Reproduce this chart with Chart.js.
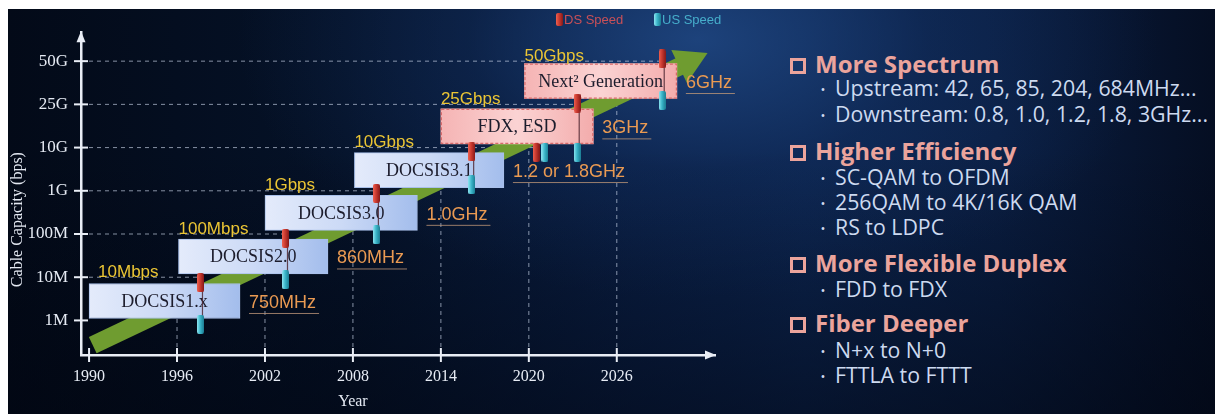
<!DOCTYPE html>
<html>
<head>
<meta charset="utf-8">
<script src="https://cdn.jsdelivr.net/npm/chart.js@4.4.1/dist/chart.umd.min.js"></script>
<style>
  html, body { margin: 0; padding: 0; background: #fff; }
  body { width: 1215px; height: 414px; position: relative; overflow: hidden; }
  #panel {
    position: absolute; left: 8px; top: 9px; width: 1207px; height: 405px; overflow: hidden;
    background:
      linear-gradient(180deg, rgba(0,0,0,0) 35%, rgba(1,5,16,0.55) 100%),
      radial-gradient(ellipse 460px 260px at 690px 30px, rgba(32,72,132,0.85) 0%, rgba(20,50,100,0.4) 50%, rgba(10,25,55,0) 100%),
      linear-gradient(90deg, #030a18 0%, #051228 28%, #0a1f45 52%, #0c2550 66%, #0a1e42 82%, #050e22 100%);
  }
  #chart-wrap { position: absolute; left: 0; top: 0; width: 770px; height: 405px; }
  .head, .item { position: absolute; white-space: nowrap; font-family: "Open Sans", sans-serif; }
  .head { left: 782px; height: 28px; line-height: 28px; font-size: 24px; font-weight: 700; color: #eba49c; }
  .head .box { display: inline-block; width: 16px; height: 16px; border: 3px solid #eba49c; box-sizing: border-box; margin-right: 9px; vertical-align: -1px; }
  .item { left: 809px; height: 26px; line-height: 26px; font-size: 21.3px; color: #cddaf0; }
  .item .dot { display: inline-block; width: 12px; text-align: center; margin-right: 6px; font-size: 13px; vertical-align: 2px; }
</style>
</head>
<body>
<div id="panel">
  <div id="chart-wrap"><canvas id="roadmap"></canvas></div>

  <div class="head" style="top:41px"><span class="box"></span>More Spectrum</div>
  <div class="item" style="top:66px"><span class="dot">•</span>Upstream: 42, 65, 85, 204, 684MHz...</div>
  <div class="item" style="top:92px"><span class="dot">•</span>Downstream: 0.8, 1.0, 1.2, 1.8, 3GHz...</div>
  <div class="head" style="top:128px"><span class="box"></span>Higher Efficiency</div>
  <div class="item" style="top:155px"><span class="dot">•</span>SC-QAM to OFDM</div>
  <div class="item" style="top:180px"><span class="dot">•</span>256QAM to 4K/16K QAM</div>
  <div class="item" style="top:205px"><span class="dot">•</span>RS to LDPC</div>
  <div class="head" style="top:240px"><span class="box"></span>More Flexible Duplex</div>
  <div class="item" style="top:267px"><span class="dot">•</span>FDD to FDX</div>
  <div class="head" style="top:300px"><span class="box"></span>Fiber Deeper</div>
  <div class="item" style="top:328px"><span class="dot">•</span>N+x to N+0</div>
  <div class="item" style="top:353px"><span class="dot">•</span>FTTLA to FTTT</div>
</div>

<script>
// Axis categories
const years = [1990, 1996, 2002, 2008, 2014, 2020, 2026];
const capacityLabels = ['1M', '10M', '100M', '1G', '10G', '25G', '50G'];

// Technology generations (level = index into capacityLabels)
const generations = ['DOCSIS1.x', 'DOCSIS2.0', 'DOCSIS3.0', 'DOCSIS3.1', 'FDX, ESD', 'Next\u00B2 Generation'];
const genStart = [1990, 1996.1, 2002, 2008.1, 2014, 2019.7];
const genEnd = [2000.3, 2006.3, 2012.4, 2018.3, 2024.4, 2030.1];
const genLevel = [0.45, 1.48, 2.49, 3.48, 4.49, 5.54];
const genFuture = [false, false, false, false, true, true];
const peakSpeed = ['10Mbps', '100Mbps', '1Gbps', '10Gbps', '25Gbps', '50Gbps'];
const peakLevel = [1, 2, 3, 4, 5, 6];
const spectrum = ['750MHz', '860MHz', '1.0GHz', '1.2 or 1.8GHz', '3GHz', '6GHz'];

// DS / US speed markers
const dsYears = [1997.6, 2003.4, 2009.6, 2016.1, 2020.5, 2023.3, 2029.1];
const dsLevels = [0.87, 1.9, 2.94, 3.9, 3.89, 5.03, 6.05];
const usYears = [1997.6, 2003.4, 2009.6, 2016.1, 2021.1, 2023.3, 2029.1];
const usLevels = [-0.09, 0.94, 1.98, 3.14, 3.89, 3.89, 5.09];

// Growth trend arrow
const trendYears = [1990.25, 2030.9];
const trendLevels = [-0.57, 5.98];

const SERIF = '"Liberation Serif", "Times New Roman", serif';
const SANS = '"Liberation Sans", Arial, sans-serif';
const AXIS_COLOR = '#e9edf5';
const GREEN = '#6f9c30';
const BOX_H = 35;

function makePin(w, h, stops) {
    const c = document.createElement('canvas');
    c.width = w;
    c.height = h;
    const g = c.getContext('2d');
    const grad = g.createLinearGradient(0, 0, w, 0);
    grad.addColorStop(0, stops[0]);
    grad.addColorStop(0.45, stops[1]);
    grad.addColorStop(1, stops[2]);
    g.fillStyle = grad;
    g.beginPath();
    if (g.roundRect) g.roundRect(0, 0, w, h, 2); else g.rect(0, 0, w, h);
    g.fill();
    return c;
}

const redStops = ['#f0604f', '#c93a30', '#861818'];
const cyanStops = ['#8fe6f2', '#3bb6ca', '#1b7c92'];
const dsPin = makePin(7, 19, redStops);
const usPin = makePin(7, 19, cyanStops);
const dsLegendPin = makePin(7, 13, redStops);
const usLegendPin = makePin(7, 13, cyanStops);

function boxFill(ctx) {
    const chart = ctx.chart;
    if (!chart.chartArea || ctx.type !== 'data') return '#c8d7f3';
    const i = ctx.dataIndex;
    const xs = chart.scales.x;
    const x0 = xs.getPixelForValue(genStart[i]);
    const x1 = xs.getPixelForValue(genEnd[i]);
    const g = chart.ctx.createLinearGradient(x0, 0, x1, 0);
    if (genFuture[i]) {
        g.addColorStop(0, '#f5b4b4');
        g.addColorStop(0.5, '#fbd3d3');
        g.addColorStop(1, '#f3acac');
    } else {
        g.addColorStop(0, '#e4ebfb');
        g.addColorStop(0.5, '#ccdaf6');
        g.addColorStop(1, '#a3bdec');
    }
    return g;
}

// -------------------------------------------------------------------------
// Decorations drawn through the chart scales
// -------------------------------------------------------------------------

const roadmapPlugin = {
    id: 'roadmap',
    beforeDatasetsDraw(chart) {
        const { ctx, chartArea } = chart;
        const xs = chart.scales.x, ys = chart.scales.y;
        ctx.save();
        ctx.strokeStyle = 'rgba(205,215,235,0.65)';
        ctx.lineWidth = 1;
        ctx.setLineDash([4, 4]);
        // horizontal guides: from axis to last DS marker at that level
        for (let k = 1; k < capacityLabels.length; k++) {
            let end = null;
            dsYears.forEach((yr, i) => {
                if (Math.round(dsLevels[i]) === k && (end === null || yr > end)) end = yr;
            });
            if (end === null) continue;
            const y = ys.getPixelForValue(k);
            ctx.beginPath();
            ctx.moveTo(chartArea.left, y);
            ctx.lineTo(xs.getPixelForValue(end), y);
            ctx.stroke();
        }
        // vertical guides: from axis up to the bottom of the generation box
        for (let j = 1; j < years.length; j++) {
            const x = xs.getPixelForValue(years[j]);
            const top = ys.getPixelForValue(genLevel[j - 1]) + BOX_H / 2;
            ctx.beginPath();
            ctx.moveTo(x, chartArea.bottom);
            ctx.lineTo(x, top);
            ctx.stroke();
        }
        ctx.restore();
    },
    afterDatasetDraw(chart, args) {
        if (args.meta.type !== 'bar') return;
        const { ctx } = chart;
        const xs = chart.scales.x, ys = chart.scales.y;
        ctx.save();
        // dashed outline of the future generations
        ctx.strokeStyle = '#d86a6a';
        ctx.lineWidth = 1.2;
        ctx.setLineDash([3, 2]);
        generations.forEach((name, i) => {
            if (!genFuture[i]) return;
            const x0 = xs.getPixelForValue(genStart[i]);
            const x1 = xs.getPixelForValue(genEnd[i]);
            const yc = ys.getPixelForValue(genLevel[i]);
            ctx.strokeRect(x0 + 0.5, yc - BOX_H / 2 + 0.5, x1 - x0 - 1, BOX_H - 1);
        });
        ctx.setLineDash([]);
        ctx.fillStyle = '#1c1c2c';
        ctx.font = '18px ' + SERIF;
        ctx.textAlign = 'center';
        ctx.textBaseline = 'middle';
        generations.forEach((name, i) => {
            const cx = (xs.getPixelForValue(genStart[i]) + xs.getPixelForValue(genEnd[i])) / 2;
            ctx.fillText(name, cx, ys.getPixelForValue(genLevel[i]) + 1);
        });
        // pins linking DS and US markers of the same year
        ctx.strokeStyle = 'rgba(80,40,50,0.85)';
        ctx.lineWidth = 1.2;
        dsYears.forEach((yr, i) => {
            const j = usYears.indexOf(yr);
            if (j < 0) return;
            const x = xs.getPixelForValue(yr) + 2;
            ctx.beginPath();
            ctx.moveTo(x, ys.getPixelForValue(dsLevels[i]));
            ctx.lineTo(x, ys.getPixelForValue(usLevels[j]));
            ctx.stroke();
        });
        ctx.restore();
    },
    afterDatasetsDraw(chart) {
        const { ctx, chartArea } = chart;
        const xs = chart.scales.x, ys = chart.scales.y;
        ctx.save();
        ctx.textBaseline = 'middle';
        // peak speed labels
        ctx.font = '17px ' + SANS;
        ctx.fillStyle = '#ebc534';
        ctx.textAlign = 'left';
        peakSpeed.forEach((s, i) => {
            ctx.fillText(s, xs.getPixelForValue(genStart[i]) + (i === 0 ? 9 : 0), ys.getPixelForValue(peakLevel[i]) - 5);
        });
        // spectrum labels, underlined
        ctx.font = '18px ' + SANS;
        spectrum.forEach((s, i) => {
            const x = xs.getPixelForValue(genEnd[i]) + 9;
            const y = ys.getPixelForValue(genLevel[i]) + 2;
            ctx.fillStyle = '#ea9a52';
            ctx.fillText(s, x, y);
            const w = ctx.measureText(s).width;
            ctx.strokeStyle = 'rgba(190,150,120,0.8)';
            ctx.lineWidth = 1;
            ctx.beginPath();
            ctx.moveTo(x, y + 10.5);
            ctx.lineTo(x + w + 3, y + 10.5);
            ctx.stroke();
        });
        // axis tick marks crossing the axes
        ctx.strokeStyle = AXIS_COLOR;
        ctx.lineWidth = 2;
        years.forEach(v => {
            const x = xs.getPixelForValue(v);
            ctx.beginPath();
            ctx.moveTo(x, chartArea.bottom - 7);
            ctx.lineTo(x, chartArea.bottom + 7);
            ctx.stroke();
        });
        capacityLabels.forEach((_, k) => {
            const y = ys.getPixelForValue(k);
            ctx.beginPath();
            ctx.moveTo(chartArea.left - 7, y);
            ctx.lineTo(chartArea.left + 7, y);
            ctx.stroke();
        });
        // axis arrow heads
        ctx.fillStyle = AXIS_COLOR;
        ctx.beginPath();
        ctx.moveTo(chartArea.left, chartArea.top - 1);
        ctx.lineTo(chartArea.left - 4.5, chartArea.top + 10);
        ctx.lineTo(chartArea.left + 4.5, chartArea.top + 10);
        ctx.closePath();
        ctx.fill();
        ctx.beginPath();
        ctx.moveTo(chartArea.right + 1, chartArea.bottom);
        ctx.lineTo(chartArea.right - 10, chartArea.bottom - 4.5);
        ctx.lineTo(chartArea.right - 10, chartArea.bottom + 4.5);
        ctx.closePath();
        ctx.fill();
        // axis titles
        ctx.fillStyle = '#e4e9f2';
        ctx.font = '16px ' + SERIF;
        ctx.textAlign = 'center';
        ctx.fillText('Year', xs.getPixelForValue(2008), chartArea.bottom + 47);
        ctx.save();
        ctx.translate(10, (chartArea.top + chartArea.bottom) / 2 + 26);
        ctx.rotate(-Math.PI / 2);
        ctx.fillText('Cable Capacity (bps)', 0, 0);
        ctx.restore();
        ctx.restore();
    },
    afterDraw(chart) {
        // legend for the DS / US markers
        const { ctx, chartArea } = chart;
        const items = [
            { pin: dsLegendPin, label: chart.data.datasets[2].label, color: '#c95058', x: chartArea.right - 159 },
            { pin: usLegendPin, label: chart.data.datasets[3].label, color: '#46aecb', x: chartArea.right - 61 }
        ];
        ctx.save();
        ctx.font = '13px ' + SANS;
        ctx.textBaseline = 'middle';
        ctx.textAlign = 'left';
        items.forEach(it => {
            ctx.drawImage(it.pin, it.x, 4);
            ctx.fillStyle = it.color;
            ctx.fillText(it.label, it.x + 8, 11);
        });
        ctx.restore();
    }
};

const ctx = document.getElementById('roadmap');

new Chart(ctx, {
    type: 'line',
    data: {
        datasets: [
            {
                type: 'line',
                label: 'Trend',
                data: trendYears.map((x, i) => ({ x, y: trendLevels[i] })),
                borderColor: GREEN,
                borderWidth: 18,
                borderCapStyle: 'butt',
                tension: 0,
                pointRadius: [0, 21],
                pointStyle: 'triangle',
                pointBackgroundColor: GREEN,
                pointBorderWidth: 0,
                pointRotation: c => {
                    const xs = c.chart.scales.x, ys = c.chart.scales.y;
                    if (!xs || !ys || !c.chart.chartArea) return 64.5;
                    const dx = xs.getPixelForValue(trendYears[1]) - xs.getPixelForValue(trendYears[0]);
                    const dy = ys.getPixelForValue(trendLevels[1]) - ys.getPixelForValue(trendLevels[0]);
                    return 90 + Math.atan2(dy, dx) * 180 / Math.PI;
                },
                order: 4
            },
            {
                type: 'bar',
                label: 'Generation',
                indexAxis: 'y',
                data: generations.map((g, i) => ({ x: [genStart[i], genEnd[i]], y: genLevel[i] })),
                barThickness: BOX_H,
                backgroundColor: boxFill,
                borderColor: '#a9c0ea',
                borderWidth: c => genFuture[c.dataIndex] ? 0 : 1,
                borderSkipped: false,
                order: 3
            },
            {
                type: 'line',
                label: 'DS Speed',
                data: dsYears.map((x, i) => ({ x, y: dsLevels[i] })),
                showLine: false,
                pointStyle: dsPin,
                pointRadius: 8,
                order: 1
            },
            {
                type: 'line',
                label: 'US Speed',
                data: usYears.map((x, i) => ({ x, y: usLevels[i] })),
                showLine: false,
                pointStyle: usPin,
                pointRadius: 8,
                order: 1
            }
        ]
    },
    options: {
        responsive: true,
        maintainAspectRatio: false,
        animation: false,
        events: [],
        layout: { padding: { top: 21, right: 63, left: 0, bottom: 0 } },
        plugins: {
            legend: { display: false },
            tooltip: { enabled: false }
        },
        scales: {
            x: {
                type: 'linear',
                position: 'bottom',
                offset: false,
                min: 1989.45,
                max: 2032.7,
                afterBuildTicks: s => { s.ticks = years.map(v => ({ value: v })); },
                afterFit: s => { s.height = 59; },
                grid: { display: false, drawTicks: false, offset: false },
                border: { display: true, color: AXIS_COLOR, width: 2.5 },
                ticks: {
                    color: '#e6ebf4',
                    font: { family: SERIF, size: 16 },
                    padding: 12,
                    maxRotation: 0,
                    autoSkip: false,
                    callback: v => String(v)
                }
            },
            y: {
                type: 'linear',
                position: 'left',
                offset: false,
                min: -0.8,
                max: 6.67,
                afterBuildTicks: s => { s.ticks = capacityLabels.map((_, i) => ({ value: i })); },
                afterFit: s => { s.width = 73; },
                grid: { display: false, drawTicks: false, offset: false },
                border: { display: true, color: AXIS_COLOR, width: 2.5 },
                ticks: {
                    color: '#e6ebf4',
                    font: { family: SERIF, size: 17 },
                    padding: 13,
                    autoSkip: false,
                    callback: v => capacityLabels[v]
                }
            }
        }
    },
    plugins: [roadmapPlugin]
});
</script>
</body>
</html>
